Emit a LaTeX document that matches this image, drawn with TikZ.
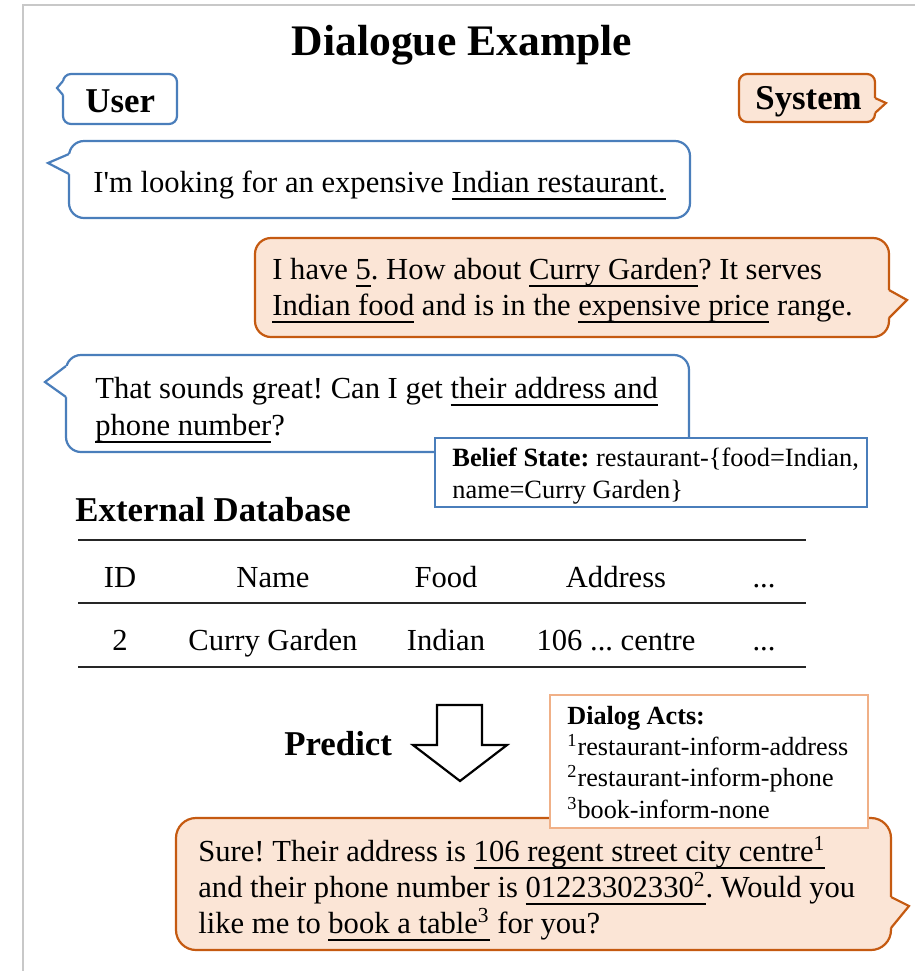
\documentclass[tikz,border=0pt]{standalone}
\usepackage{fontspec}
\setmainfont{Liberation Serif}
\frenchspacing
\newsavebox\ulbox
\newcommand\myul[1]{\sbox\ulbox{#1}\rlap{\rule[-3.8pt]{\wd\ulbox}{0.65pt}}\usebox\ulbox}
\definecolor{blueB}{RGB}{74,126,187}
\definecolor{orangeB}{RGB}{197,90,17}
\definecolor{peach}{RGB}{251,229,214}
\definecolor{daB}{RGB}{240,176,135}
\definecolor{frameG}{RGB}{200,200,200}
\tikzset{
  x=0.5pt, y=-0.5pt,
  txt/.style={anchor=base west, inner sep=0pt, font=\fontsize{15.3}{18}\selectfont},
  txtc/.style={anchor=base, inner sep=0pt, font=\fontsize{15.3}{18}\selectfont},
  small/.style={anchor=base west, inner sep=0pt, font=\fontsize{13.2}{16}\selectfont},
  smallda/.style={anchor=base west, inner sep=0pt, font=\fontsize{13.1}{16}\selectfont},
  head/.style={anchor=base west, inner sep=0pt, font=\bfseries\fontsize{17.4}{20}\selectfont},
  userbub/.style={draw=blueB, fill=white, line width=1.1pt},
  sysbub/.style={draw=orangeB, fill=peach, line width=1.1pt},
  usertail/.style={draw=blueB, line width=1.1pt},
  systail/.style={draw=orangeB, line width=1.1pt},
  rule/.style={line width=0.8pt, black!85},
}
\begin{document}
\begin{tikzpicture}
\useasboundingbox (0,0) rectangle (915,971);
% frame
\draw[frameG, line width=1.2pt] (23,971) -- (23,5) -- (915,5);
% title
\node[anchor=base, inner sep=0pt, font=\bfseries\fontsize{21.8}{26}\selectfont] (title) at (462,55) {Dialogue Example};
% User tag
\draw[userbub, rounded corners=4pt] (63,74) rectangle (177,124);
\fill[white] (66,81) -- (63,81) -- (57,88) -- (63,95) -- (66,95) -- cycle;
\draw[usertail] (63,81) -- (57,88) -- (63,95);
\node[head] (user) at (85,112) {User};
% System tag
\draw[sysbub, rounded corners=4pt] (739,74) rectangle (875,122);
\fill[peach] (872,98) -- (875,98) -- (886,103) -- (875,113) -- (872,113) -- cycle;
\draw[systail] (875,98) -- (886,103) -- (875,113);
\node[head] (system) at (755,109) {System};
% bubble 1 (user)
\draw[userbub, rounded corners=7.5pt] (69,141) rectangle (690,218);
\fill[white] (72,154) -- (69,154) -- (48,163) -- (69,174) -- (72,174) -- cycle;
\draw[usertail] (69,154) -- (48,163) -- (69,174);
\node[txt] (u1) at (93,192) {I\textquotesingle m looking for an expensive \myul{Indian restaurant.}};
% bubble 2 (system)
\draw[sysbub, rounded corners=8pt] (255,238) rectangle (889,337);
\fill[peach] (886,290) -- (889,290) -- (907,300) -- (889,318) -- (886,318) -- cycle;
\draw[systail] (889,290) -- (907,300) -- (889,318);
\node[txt] (s1a) at (272,279) {I have \myul{5}. How about \myul{Curry Garden}? It serves};
\node[txt] (s1b) at (272,315) {\myul{Indian food} and is in the \myul{expensive price} range.};
% bubble 3 (user)
\draw[userbub, rounded corners=7.5pt] (66,355) rectangle (689,452);
\fill[white] (69,366) -- (66,366) -- (45,382) -- (66,397) -- (69,397) -- cycle;
\draw[usertail] (66,366) -- (45,382) -- (66,397);
\node[txt] (u2a) at (95,398) {That sounds great! Can I get \myul{their address and}};
\node[txt] (u2b) at (95,435) {\myul{phone number}?};
% belief state
\draw[draw=blueB, fill=white, line width=1.1pt] (435,438) rectangle (867,507);
\node[small] (bs1) at (452,466) {\textbf{Belief State:} restaurant-\{food=Indian,};
\node[small] (bs2) at (452,498) {name=Curry Garden\}};
% external database
\node[head] (extdb) at (75,521) {External Database};
\draw[rule] (78,540) -- (806,540);
\draw[rule] (78,603) -- (806,603);
\draw[rule] (78,667) -- (806,667);
\node[txtc] (h1) at (120,587) {ID};
\node[txtc] (h2) at (273,587) {Name};
\node[txtc] (h3) at (446,587) {Food};
\node[txtc] (h4) at (616,587) {Address};
\node[txtc] (h5) at (764,587) {...};
\node[txtc] (r1) at (120,650) {2};
\node[txtc] (r2) at (273,650) {Curry Garden};
\node[txtc] (r3) at (446,650) {Indian};
\node[txtc] (r4) at (616,650) {106 ... centre};
\node[txtc] (r5) at (764,650) {...};
% predict
\node[head] (predict) at (284,755) {Predict};
\draw[line width=1.1pt, fill=white] (437,705) -- (482,705) -- (482,745) -- (507,745) -- (460,781) -- (413,745) -- (437,745) -- cycle;
% bubble 4 (system)
\draw[sysbub, rounded corners=10pt] (176,818) rectangle (891,950);
\fill[peach] (888,897) -- (891,897) -- (909,906) -- (891,928) -- (888,928) -- cycle;
\draw[systail] (891,897) -- (909,906) -- (891,928);
\node[txt] (s2a) at (198,861) {Sure! Their address is \myul{106 regent street city centre\textsuperscript{1}}};
\node[txt] (s2b) at (198,897) {and their phone number is \myul{01223302330\textsuperscript{2}}. Would you};
\node[txt] (s2c) at (198,933) {like me to \myul{book a table\textsuperscript{3}} for you?};
% dialog acts
\draw[draw=daB, fill=white, line width=1.3pt] (550,695) rectangle (868,828);
\node[smallda, font=\bfseries\fontsize{13.1}{16}\selectfont] (da0) at (567,724) {Dialog Acts:};
\node[smallda] (da1) at (567,755) {\textsuperscript{1}restaurant-inform-address};
\node[smallda] (da2) at (567,786) {\textsuperscript{2}restaurant-inform-phone};
\node[smallda] (da3) at (567,818) {\textsuperscript{3}book-inform-none};
\end{tikzpicture}
\end{document}
